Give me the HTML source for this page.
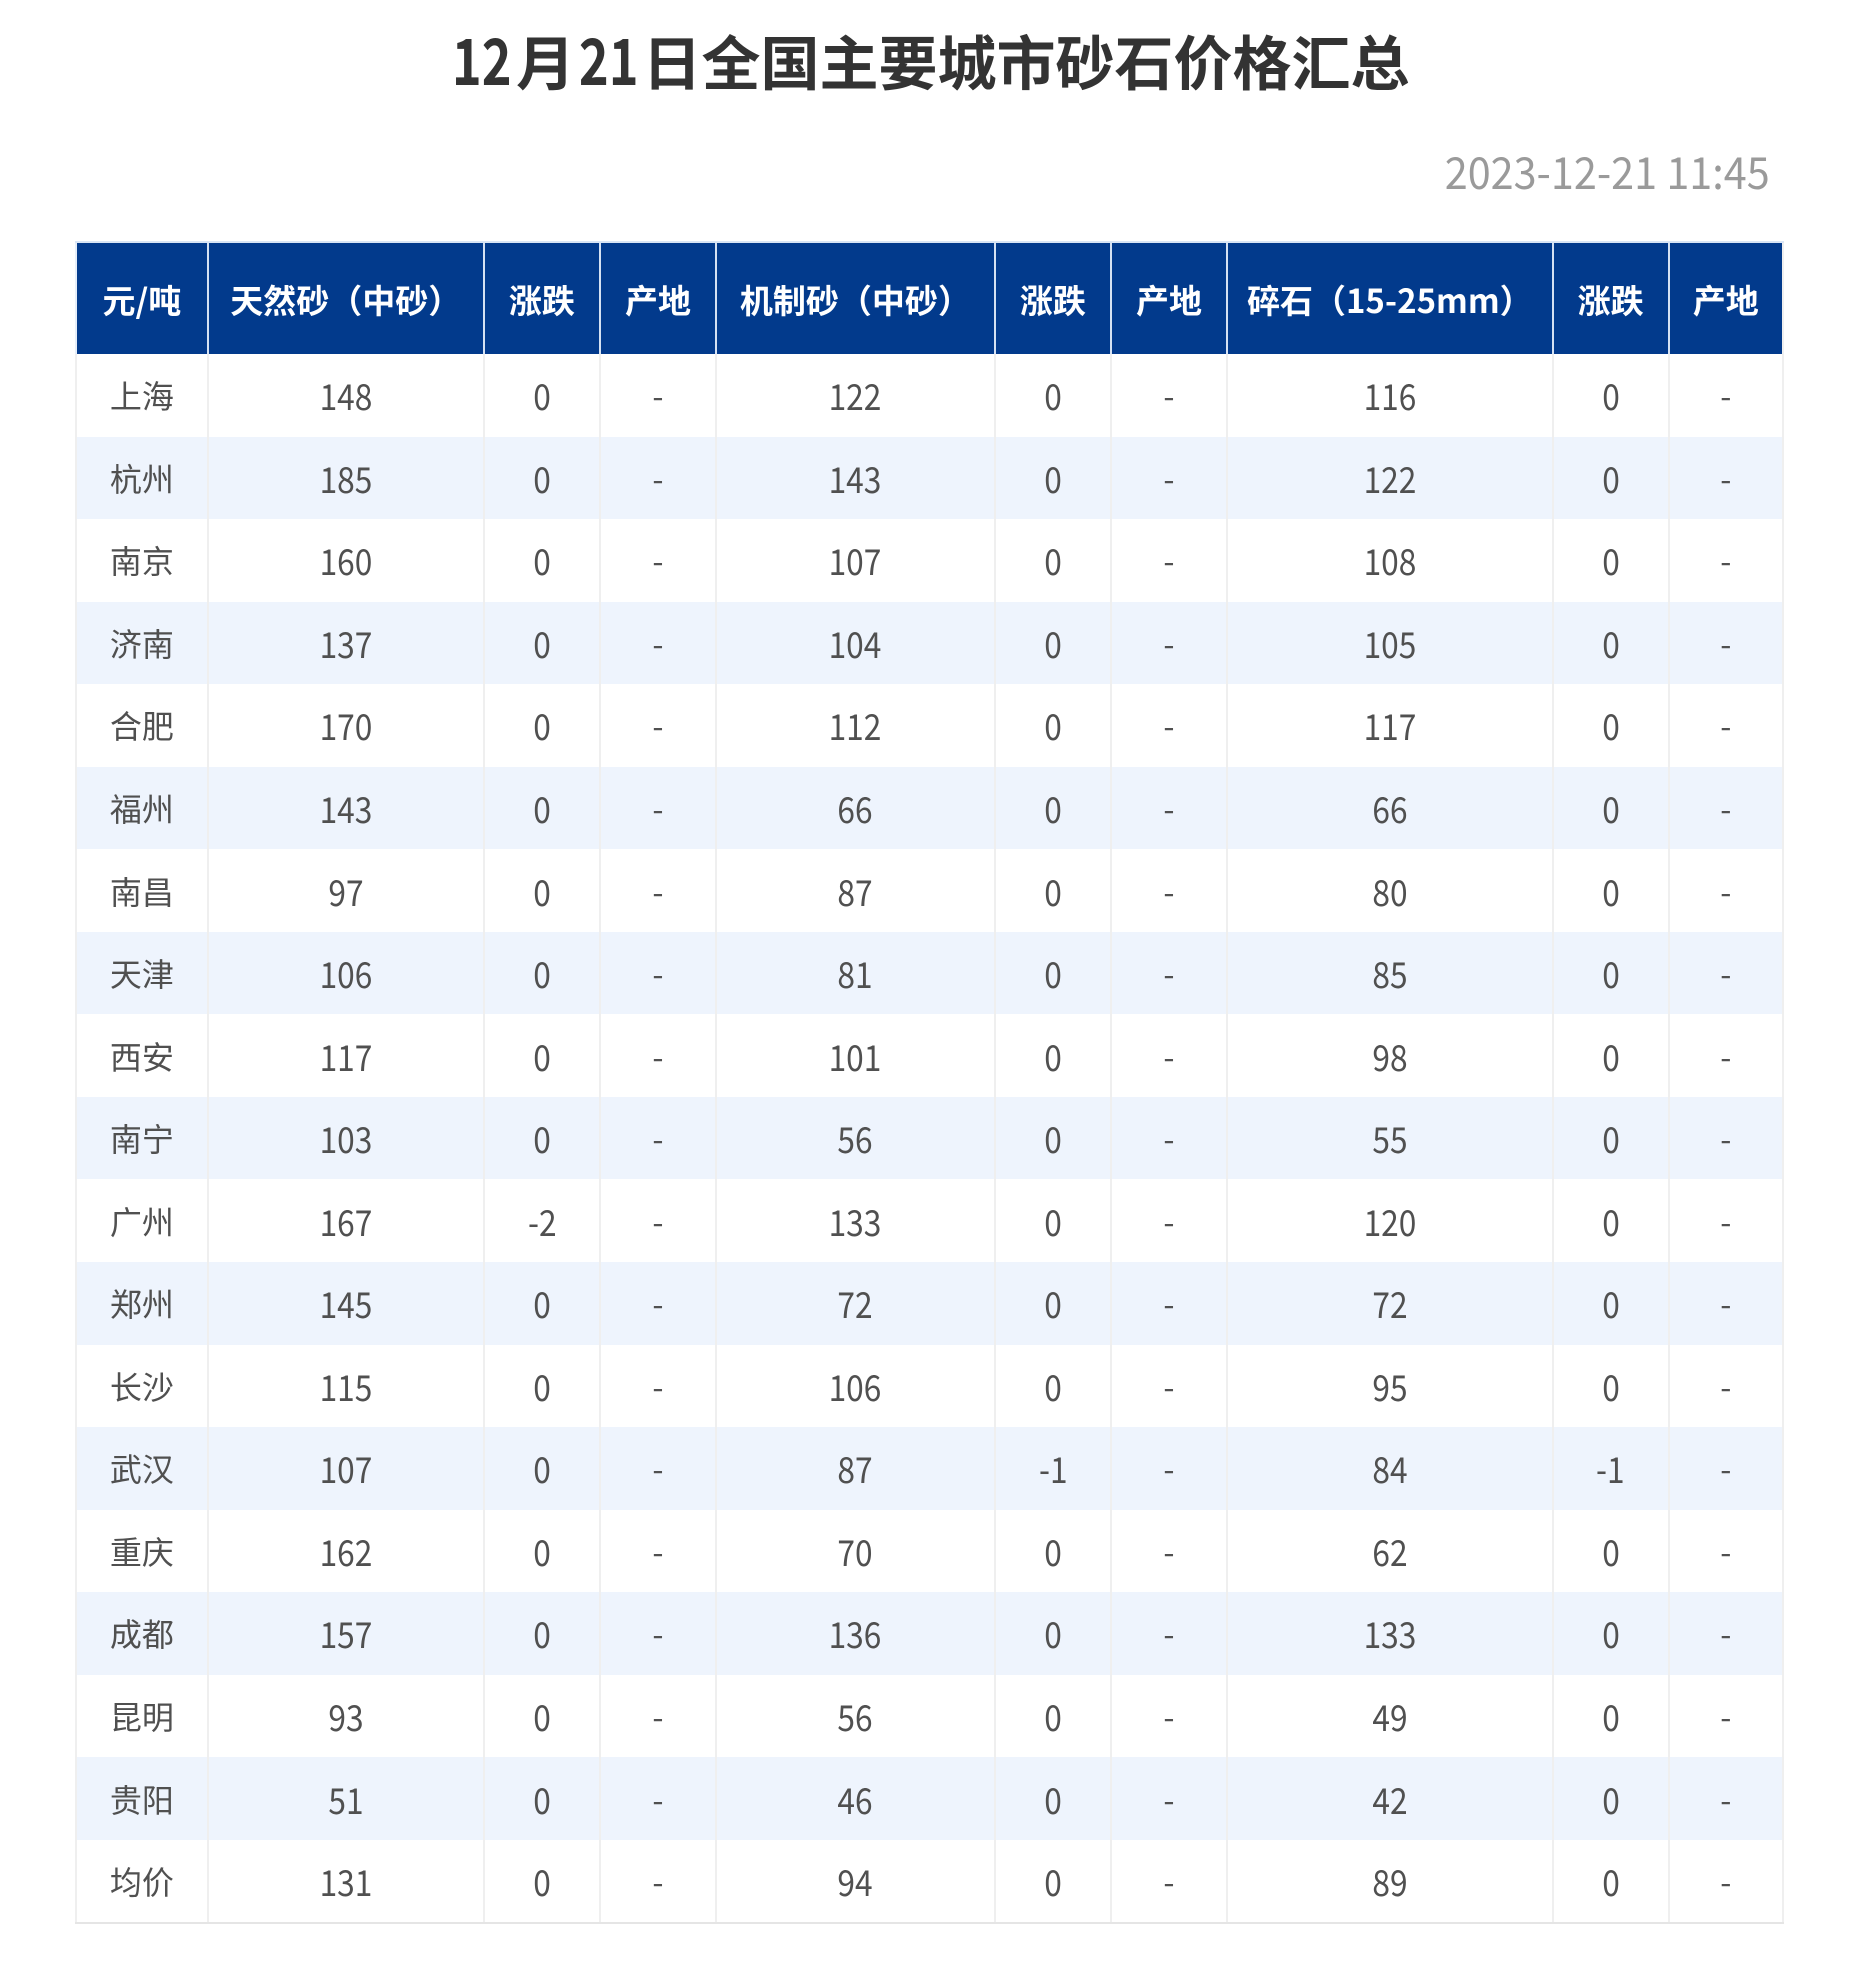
<!DOCTYPE html>
<html>
<head>
<meta charset="utf-8">
<style>
html,body{margin:0;padding:0;background:#fff;}
body{width:1860px;height:1965px;position:relative;overflow:hidden;font-family:"Noto Sans CJK SC","Liberation Sans",sans-serif;}
.title{position:absolute;left:-1px;top:29px;width:1860px;text-align:center;font-size:59px;line-height:59px;font-weight:700;color:#333;white-space:nowrap;}
.title b{display:inline-block;font-size:64px;transform:scaleX(.79);margin:0 -4px;font-weight:700;}
.time{position:absolute;right:90px;top:148px;font-size:44px;line-height:44px;color:#9a9a9a;white-space:nowrap;transform:scaleX(.94);transform-origin:right center;}
.t{position:absolute;left:75px;top:241px;width:1709px;display:grid;
grid-template-columns:131.7px 276px 116.3px 116px 278.7px 116.3px 116px 325.7px 116px 116.3px;
grid-template-rows:111px repeat(19,82.55px);border-top:2px solid #d9e5f5;border-bottom:2px solid #e5e5e5;}
.r{display:contents;}
.r>div{box-sizing:border-box;border-left:2px solid #efefef;display:flex;align-items:center;justify-content:center;font-size:32px;color:#505050;background:#fff;white-space:nowrap;}
.r>div:last-child{border-right:2px solid #efefef;}
.r.b>div{background:#eef4fd;}
.r>div i{font-style:normal;display:inline-block;font-size:36px;transform:scaleX(.88);}
.h>div{background:#023a8c !important;color:#fff;font-weight:700;font-size:33px;border-left:2px solid #d5e1f2 !important;}
.h>div:first-child{border-left:2px solid #e5eef9 !important;}
</style>
</head>
<body>
<div class="title"><b>12</b>月<b>21</b>日全国主要城市砂石价格汇总</div>
<div class="time">2023-12-21 11:45</div>
<div class="t">
<div class="r h"><div>元/吨</div><div>天然砂（中砂）</div><div>涨跌</div><div>产地</div><div>机制砂（中砂）</div><div>涨跌</div><div>产地</div><div>碎石（15-25mm）</div><div>涨跌</div><div>产地</div></div>
<div class="r"><div>上海</div><div><i>148</i></div><div><i>0</i></div><div>-</div><div><i>122</i></div><div><i>0</i></div><div>-</div><div><i>116</i></div><div><i>0</i></div><div>-</div></div>
<div class="r b"><div>杭州</div><div><i>185</i></div><div><i>0</i></div><div>-</div><div><i>143</i></div><div><i>0</i></div><div>-</div><div><i>122</i></div><div><i>0</i></div><div>-</div></div>
<div class="r"><div>南京</div><div><i>160</i></div><div><i>0</i></div><div>-</div><div><i>107</i></div><div><i>0</i></div><div>-</div><div><i>108</i></div><div><i>0</i></div><div>-</div></div>
<div class="r b"><div>济南</div><div><i>137</i></div><div><i>0</i></div><div>-</div><div><i>104</i></div><div><i>0</i></div><div>-</div><div><i>105</i></div><div><i>0</i></div><div>-</div></div>
<div class="r"><div>合肥</div><div><i>170</i></div><div><i>0</i></div><div>-</div><div><i>112</i></div><div><i>0</i></div><div>-</div><div><i>117</i></div><div><i>0</i></div><div>-</div></div>
<div class="r b"><div>福州</div><div><i>143</i></div><div><i>0</i></div><div>-</div><div><i>66</i></div><div><i>0</i></div><div>-</div><div><i>66</i></div><div><i>0</i></div><div>-</div></div>
<div class="r"><div>南昌</div><div><i>97</i></div><div><i>0</i></div><div>-</div><div><i>87</i></div><div><i>0</i></div><div>-</div><div><i>80</i></div><div><i>0</i></div><div>-</div></div>
<div class="r b"><div>天津</div><div><i>106</i></div><div><i>0</i></div><div>-</div><div><i>81</i></div><div><i>0</i></div><div>-</div><div><i>85</i></div><div><i>0</i></div><div>-</div></div>
<div class="r"><div>西安</div><div><i>117</i></div><div><i>0</i></div><div>-</div><div><i>101</i></div><div><i>0</i></div><div>-</div><div><i>98</i></div><div><i>0</i></div><div>-</div></div>
<div class="r b"><div>南宁</div><div><i>103</i></div><div><i>0</i></div><div>-</div><div><i>56</i></div><div><i>0</i></div><div>-</div><div><i>55</i></div><div><i>0</i></div><div>-</div></div>
<div class="r"><div>广州</div><div><i>167</i></div><div><i>-2</i></div><div>-</div><div><i>133</i></div><div><i>0</i></div><div>-</div><div><i>120</i></div><div><i>0</i></div><div>-</div></div>
<div class="r b"><div>郑州</div><div><i>145</i></div><div><i>0</i></div><div>-</div><div><i>72</i></div><div><i>0</i></div><div>-</div><div><i>72</i></div><div><i>0</i></div><div>-</div></div>
<div class="r"><div>长沙</div><div><i>115</i></div><div><i>0</i></div><div>-</div><div><i>106</i></div><div><i>0</i></div><div>-</div><div><i>95</i></div><div><i>0</i></div><div>-</div></div>
<div class="r b"><div>武汉</div><div><i>107</i></div><div><i>0</i></div><div>-</div><div><i>87</i></div><div><i>-1</i></div><div>-</div><div><i>84</i></div><div><i>-1</i></div><div>-</div></div>
<div class="r"><div>重庆</div><div><i>162</i></div><div><i>0</i></div><div>-</div><div><i>70</i></div><div><i>0</i></div><div>-</div><div><i>62</i></div><div><i>0</i></div><div>-</div></div>
<div class="r b"><div>成都</div><div><i>157</i></div><div><i>0</i></div><div>-</div><div><i>136</i></div><div><i>0</i></div><div>-</div><div><i>133</i></div><div><i>0</i></div><div>-</div></div>
<div class="r"><div>昆明</div><div><i>93</i></div><div><i>0</i></div><div>-</div><div><i>56</i></div><div><i>0</i></div><div>-</div><div><i>49</i></div><div><i>0</i></div><div>-</div></div>
<div class="r b"><div>贵阳</div><div><i>51</i></div><div><i>0</i></div><div>-</div><div><i>46</i></div><div><i>0</i></div><div>-</div><div><i>42</i></div><div><i>0</i></div><div>-</div></div>
<div class="r"><div>均价</div><div><i>131</i></div><div><i>0</i></div><div>-</div><div><i>94</i></div><div><i>0</i></div><div>-</div><div><i>89</i></div><div><i>0</i></div><div>-</div></div>
</div>
</body>
</html>
